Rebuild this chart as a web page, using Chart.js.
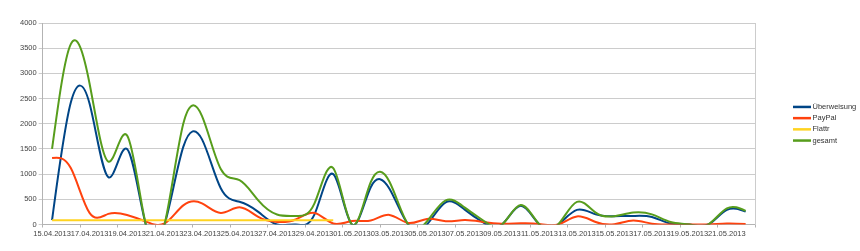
<!DOCTYPE html>
<html>
<head>
<meta charset="utf-8">
<script src="https://cdn.jsdelivr.net/npm/chart.js@4/dist/chart.umd.min.js"></script>
<style>
  html, body { margin: 0; padding: 0; background: #fff; }
</style>
</head>
<body>
<canvas id="chart" width="860" height="251"></canvas>
<script>
// daily values, 15.04.2013 - 22.05.2013
const dates = [
    '15.04.2013', '16.04.2013', '17.04.2013', '18.04.2013', '19.04.2013', '20.04.2013',
    '21.04.2013', '22.04.2013', '23.04.2013', '24.04.2013', '25.04.2013', '26.04.2013',
    '27.04.2013', '28.04.2013', '29.04.2013', '30.04.2013', '01.05.2013', '02.05.2013',
    '03.05.2013', '04.05.2013', '05.05.2013', '06.05.2013', '07.05.2013', '08.05.2013',
    '09.05.2013', '10.05.2013', '11.05.2013', '12.05.2013', '13.05.2013', '14.05.2013',
    '15.05.2013', '16.05.2013', '17.05.2013', '18.05.2013', '19.05.2013', '20.05.2013',
    '21.05.2013', '22.05.2013'
];

const ueberweisung = [85, 2420, 2400, 940, 1500, 0, 0, 1540, 1690, 720, 450, 250, 0, 0, 200, 1000,
    0, 740, 710, 0, 0, 440, 300, 40, 0, 370, 0, 0, 290, 200, 165, 170, 150, 20, 0, 0, 290, 255];

const paypal = [1320, 1120, 230, 210, 190, 60, 20, 380, 420, 230, 340, 150, 50, 100, 230, 20,
    70, 80, 190, 30, 110, 65, 90, 50, 15, 25, 10, 0, 160, 50, 5, 80, 15, 0, 0, 0, 20, 10];

const flattr = [85, 85, 85, 85, 85, 85, 85, 85, 85, 85, 85, 85, 85, 85, 85, 85,
    null, null, null, null, null, null, null, null, null, null, null, null, null, null,
    null, null, null, null, null, null, null, null];

const gesamt = [1500, 3580, 2800, 1250, 1770, 0, 0, 2000, 2150, 1100, 880, 480, 200, 170, 420, 1120,
    0, 840, 850, 0, 60, 480, 340, 80, 0, 385, 0, 0, 450, 237, 165, 237, 200, 50, 0, 0, 320, 270];

const yMax = 4000;
const yStep = 500;

Chart.defaults.font.family = '"Liberation Sans", Arial, sans-serif';
Chart.defaults.font.size = 7.5;
Chart.defaults.color = '#444';

// natural cubic spline through the points (like the office chart),
// replaces chart.js own control points
function naturalSpline(pts) {
    const n = pts.length;
    if (n < 2) return;
    if (n === 2) {
        pts.forEach(p => { p.cp1x = p.cp2x = p.x; p.cp1y = p.cp2y = p.y; });
        return;
    }
    const h = [], M = new Array(n).fill(0);
    for (let k = 0; k < n - 1; k++) h.push(pts[k + 1].x - pts[k].x);
    // tridiagonal solve for second derivatives, M[0] = M[n-1] = 0
    const a = [], b = [], c = [], d = [];
    for (let k = 1; k < n - 1; k++) {
        a.push(h[k - 1]);
        b.push(2 * (h[k - 1] + h[k]));
        c.push(h[k]);
        d.push(6 * ((pts[k + 1].y - pts[k].y) / h[k] - (pts[k].y - pts[k - 1].y) / h[k - 1]));
    }
    const m = b.length;
    for (let i = 1; i < m; i++) {
        const w = a[i] / b[i - 1];
        b[i] -= w * c[i - 1];
        d[i] -= w * d[i - 1];
    }
    const sol = new Array(m);
    sol[m - 1] = d[m - 1] / b[m - 1];
    for (let i = m - 2; i >= 0; i--) sol[i] = (d[i] - c[i] * sol[i + 1]) / b[i];
    for (let i = 0; i < m; i++) M[i + 1] = sol[i];

    const slope = [];
    for (let k = 0; k < n - 1; k++) {
        slope.push((pts[k + 1].y - pts[k].y) / h[k] - h[k] * (2 * M[k] + M[k + 1]) / 6);
    }
    slope.push((pts[n - 1].y - pts[n - 2].y) / h[n - 2] + h[n - 2] * (M[n - 2] + 2 * M[n - 1]) / 6);

    for (let k = 0; k < n; k++) {
        const p = pts[k];
        const hl = k > 0 ? h[k - 1] : 0;
        const hr = k < n - 1 ? h[k] : 0;
        p.cp1x = p.x - hl / 3;
        p.cp1y = p.y - slope[k] * hl / 3;
        p.cp2x = p.x + hr / 3;
        p.cp2y = p.y + slope[k] * hr / 3;
    }
}

const splinePlugin = {
    id: 'naturalSpline',
    beforeDatasetDraw(chart, args) {
        const meta = args.meta;
        let run = [];
        meta.data.forEach(p => {
            if (p.skip) { naturalSpline(run); run = []; }
            else run.push(p);
        });
        naturalSpline(run);
        meta.dataset._pointsUpdated = true;
        delete meta.dataset._path;
    }
};

// legend drawn at the right, like the office chart does it
const sideLegend = {
    id: 'sideLegend',
    afterDraw(chart) {
        const ctx = chart.ctx;
        const area = chart.chartArea;
        const rowH = 11.2;
        const sets = chart.data.datasets;
        const x0 = area.right + 38;
        let y = (area.top + area.bottom) / 2 - rowH * (sets.length - 1) / 2;
        ctx.save();
        ctx.font = '7.5px "Liberation Sans", Arial, sans-serif';
        ctx.textBaseline = 'middle';
        ctx.fillStyle = '#333';
        sets.forEach(ds => {
            ctx.strokeStyle = ds.borderColor;
            ctx.lineWidth = 2.5;
            ctx.beginPath();
            ctx.moveTo(x0, y);
            ctx.lineTo(x0 + 18, y);
            ctx.stroke();
            ctx.fillText(ds.label, x0 + 19.5, y);
            y += rowH;
        });
        ctx.restore();
    }
};

function line(label, data, color, order) {
    return {
        label: label,
        data: data,
        borderColor: color,
        backgroundColor: color,
        borderWidth: 2,
        pointRadius: 0,
        tension: 0.4,
        fill: false,
        order: order
    };
}

new Chart(document.getElementById('chart'), {
    type: 'line',
    data: {
        labels: dates,
        datasets: [
            line('Überweisung', ueberweisung, '#004586', 4),
            line('PayPal', paypal, '#ff420e', 3),
            line('Flattr', flattr, '#ffd320', 2),
            line('gesamt', gesamt, '#579d1c', 1)
        ]
    },
    options: {
        responsive: false,
        animation: false,
        layout: { padding: { left: 18, top: 23, right: 105, bottom: 10.5 } },
        elements: { line: { capBezierPoints: false } },
        plugins: {
            legend: { display: false },
            tooltip: { enabled: false }
        },
        scales: {
            x: {
                offset: true,
                grid: {
                    offset: true,
                    drawOnChartArea: false,
                    tickLength: 3,
                    color: c => (c.index === undefined || c.index % 2 === 0) ? '#b3b3b3' : 'rgba(0,0,0,0)'
                },
                border: { color: '#b3b3b3' },
                ticks: {
                    autoSkip: false,
                    maxRotation: 0,
                    minRotation: 0,
                    padding: 2,
                    callback: (v, i) => i % 2 === 0 ? dates[i] : ''
                }
            },
            y: {
                min: 0,
                max: yMax,
                ticks: { stepSize: yStep, padding: 2, callback: v => String(v) },
                grid: { color: '#cccccc', tickLength: 4 },
                border: { color: '#b3b3b3' }
            },
            y2: {
                position: 'right',
                display: true,
                ticks: { display: false },
                grid: { drawOnChartArea: false, drawTicks: false },
                border: { color: '#cccccc' }
            }
        }
    },
    plugins: [splinePlugin, sideLegend]
});
</script>
</body>
</html>
